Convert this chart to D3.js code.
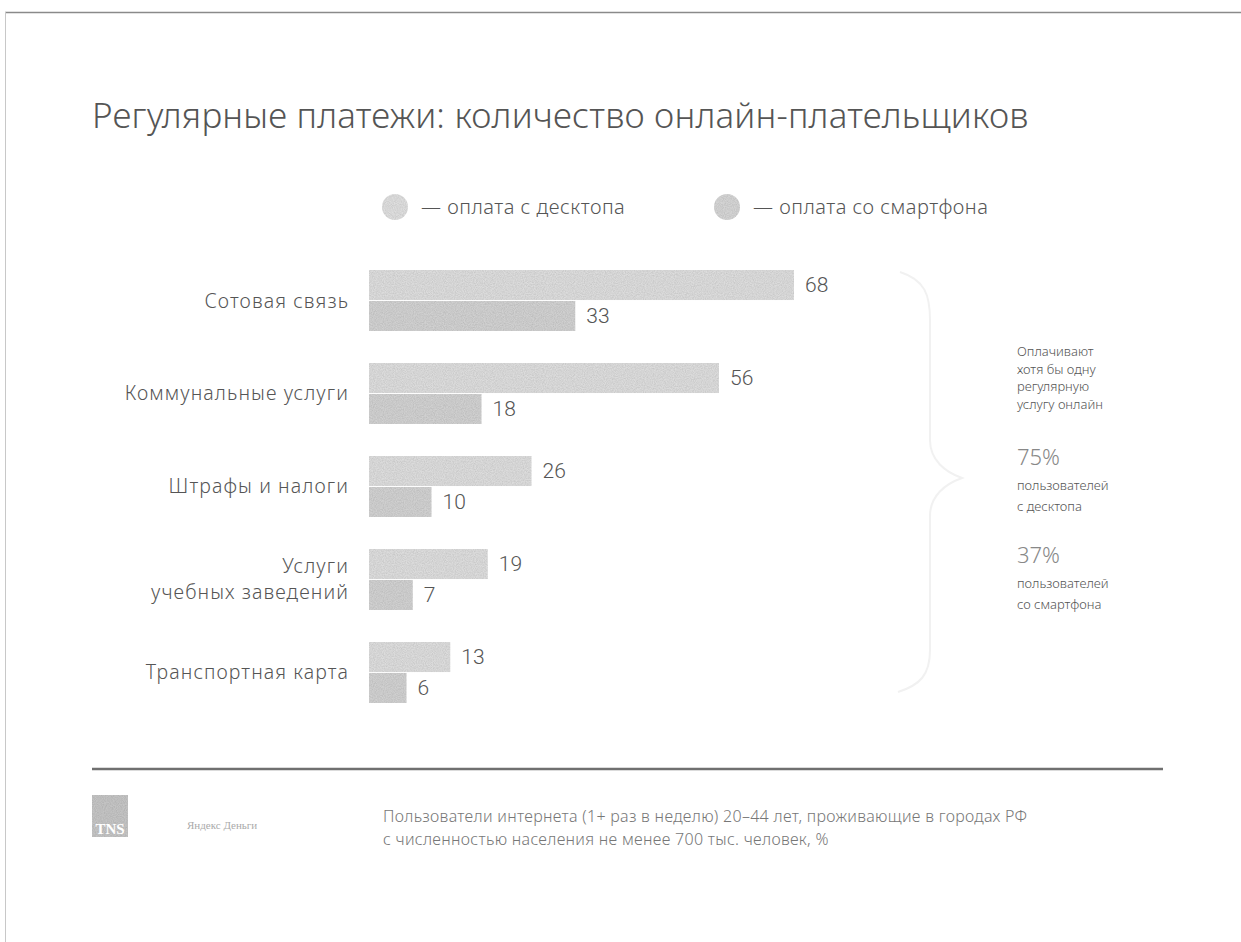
<!DOCTYPE html>
<html>
<head>
<meta charset="utf-8">
<script src="https://cdn.jsdelivr.net/npm/d3@7"></script>
<style>
  body { margin: 0; background: #fff; }
  svg { display: block; }
</style>
</head>
<body>
<div id="chart"></div>
<script>
// Data
const categories = ["Сотовая связь", "Коммунальные услуги", "Штрафы и налоги", "Услуги|учебных заведений", "Транспортная карта"];
const desktop = [68, 56, 26, 19, 13];
const smartphone = [33, 18, 10, 7, 6];
const seriesNames = ["— оплата с десктопа", "— оплата со смартфона"];
const noteLines = ["Оплачивают", "хотя бы одну", "регулярную", "услугу онлайн"];
const notePercents = ["75%", "37%"];
const noteCaptions = [["пользователей", "с десктопа"], ["пользователей", "со смартфона"]];
const footnote = ["Пользователи интернета (1+ раз в неделю) 20–44 лет, проживающие в городах РФ",
                  "с численностью населения не менее 700 тыс. человек, %"];

const W = 1241, H = 942;
const font = "'Noto Sans', 'Open Sans', sans-serif";

const svg = d3.select("#chart")
    .append("svg")
    .attr("width", W)
    .attr("height", H);

// grainy scan look
const defs = svg.append("defs");
const grain = defs.append("filter").attr("id", "grain")
    .attr("x", 0).attr("y", 0).attr("width", 1).attr("height", 1);
grain.append("feTurbulence").attr("type", "fractalNoise")
    .attr("baseFrequency", 0.9).attr("numOctaves", 2).attr("seed", 3).attr("result", "noise");
grain.append("feColorMatrix").attr("in", "noise").attr("type", "matrix")
    .attr("values", "0 0 0 0 0  0 0 0 0 0  0 0 0 0 0  0 0 0 0.35 -0.1")
    .attr("result", "dots");
grain.append("feComposite").attr("in", "dots").attr("in2", "SourceGraphic").attr("operator", "in").attr("result", "d2");
grain.append("feMerge").call(m => {
    m.append("feMergeNode").attr("in", "SourceGraphic");
    m.append("feMergeNode").attr("in", "d2");
});

// page frame
svg.append("line").attr("x1", 5).attr("x2", W).attr("y1", 12.5).attr("y2", 12.5)
    .attr("stroke", "#8a8a8a").attr("stroke-width", 1.5);
svg.append("line").attr("x1", 5.5).attr("x2", 5.5).attr("y1", 12).attr("y2", H)
    .attr("stroke", "#c8c8c8").attr("stroke-width", 1);

// Title
svg.append("text")
    .attr("x", 92)
    .attr("y", 128)
    .style("font-family", font)
    .style("font-weight", 300)
    .style("font-size", "35px")
    .style("letter-spacing", "0.2px")
    .attr("fill", "#555")
    .text("Регулярные платежи: количество онлайн-плательщиков");

// Legend
const legendX = [395, 727];
seriesNames.forEach((name, i) => {
    svg.append("circle")
        .attr("cx", legendX[i])
        .attr("cy", 207)
        .attr("r", 13)
        .attr("fill", i === 0 ? "#dedede" : "#d4d4d4")
        .attr("filter", "url(#grain)");
    svg.append("text")
        .attr("x", legendX[i] + 26)
        .attr("y", 214)
        .style("font-family", font)
        .style("font-weight", 300)
        .style("font-size", "20px")
        .style("letter-spacing", "0.5px")
        .attr("fill", "#555")
        .text(name);
});

// Scales
const x = d3.scaleLinear()
    .domain([0, 68])
    .range([369, 794]);

const y = d3.scaleBand()
    .domain(categories)
    .range([270, 703])
    .paddingInner(0.344);

const ySub = d3.scaleBand()
    .domain(["desktop", "smartphone"])
    .range([0, y.bandwidth()])
    .paddingInner(0.03);

const rows = categories.map((c, i) => ({ c, desktop: desktop[i], smartphone: smartphone[i] }));

const groups = svg.selectAll("g.group")
    .data(rows)
    .join("g")
    .attr("class", "group")
    .attr("transform", d => `translate(0, ${y(d.c)})`);

const barColor = { desktop: "#dcdcdc", smartphone: "#d0d0d0" };

groups.selectAll("rect")
    .data(d => ["desktop", "smartphone"].map(k => ({ k, v: d[k] })))
    .join("rect")
    .attr("x", x(0))
    .attr("y", d => ySub(d.k))
    .attr("width", d => x(d.v) - x(0))
    .attr("height", ySub.bandwidth())
    .attr("fill", d => barColor[d.k])
    .attr("filter", "url(#grain)");

groups.selectAll("text.val")
    .data(d => ["desktop", "smartphone"].map(k => ({ k, v: d[k] })))
    .join("text")
    .attr("class", "val")
    .attr("x", d => x(d.v) + 11)
    .attr("y", d => ySub(d.k) + ySub.bandwidth() / 2 + 7)
    .style("font-family", "Roboto, sans-serif")
    .style("font-weight", 300)
    .style("font-size", "21px")
    .attr("fill", "#555")
    .text(d => d.v);

// Category labels
groups.append("text")
    .attr("text-anchor", "end")
    .style("font-family", font)
    .style("font-weight", 300)
    .style("font-size", "19.5px")
    .style("letter-spacing", "1.1px")
    .attr("fill", "#555")
    .each(function (d) {
        const lines = d.c.split("|");
        const t = d3.select(this);
        const mid = y.bandwidth() / 2 + 7;
        lines.forEach((ln, j) => {
            t.append("tspan")
                .attr("x", 349)
                .attr("y", mid + (j - (lines.length - 1) / 2) * 26)
                .text(ln);
        });
    });

// Brace
svg.append("path")
    .attr("d", "M900,272 C925,280 930,295 930,320 L930,440 C930,460 945,472 962,478 C945,484 930,496 930,516 L930,650 C930,675 920,685 898,692")
    .attr("fill", "none")
    .attr("stroke", "#f1f1f1")
    .attr("stroke-width", 2);

// Right note
const note = svg.append("g").style("font-family", font).attr("fill", "#555");
noteLines.forEach((ln, i) => {
    note.append("text").attr("x", 1017).attr("y", 356 + i * 17.5)
        .style("font-size", "13px").style("font-weight", 300).text(ln);
});
notePercents.forEach((p, i) => {
    const top = 465 + i * 98;
    note.append("text").attr("x", 1017).attr("y", top)
        .style("font-size", "22px").style("font-weight", 300).attr("fill", "#888").text(p);
    noteCaptions[i].forEach((ln, j) => {
        note.append("text").attr("x", 1017).attr("y", top + 25 + j * 21)
            .style("font-size", "13px").style("font-weight", 300).text(ln);
    });
});

// Footer rule
svg.append("line")
    .attr("x1", 92).attr("x2", 1163)
    .attr("y1", 769).attr("y2", 769)
    .attr("stroke", "#707070")
    .attr("stroke-width", 2.5);

// Logos
svg.append("rect")
    .attr("x", 92).attr("y", 795).attr("width", 36).attr("height", 42)
    .attr("fill", "#c4c4c4").attr("filter", "url(#grain)");
svg.append("text")
    .attr("x", 110).attr("y", 834)
    .attr("text-anchor", "middle")
    .style("font-family", "'Liberation Serif', serif")
    .style("font-size", "15px")
    .style("font-weight", "bold")
    .attr("fill", "#fff")
    .text("TNS");
svg.append("text")
    .attr("x", 187).attr("y", 829)
    .style("font-family", "'Liberation Serif', serif")
    .style("font-size", "11px")
    .attr("fill", "#aaa")
    .text("Яндекс  Деньги");

// Footnote
footnote.forEach((ln, i) => {
    svg.append("text")
        .attr("x", 383)
        .attr("y", 822 + i * 23)
        .style("font-family", font)
        .style("font-weight", 300)
        .style("font-size", "16px")
        .style("letter-spacing", "0.3px")
        .attr("fill", "#777")
        .text(ln);
});
</script>
</body>
</html>
